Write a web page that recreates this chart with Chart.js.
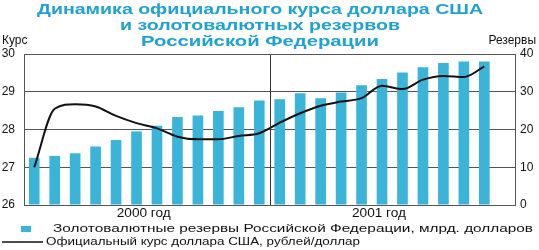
<!DOCTYPE html>
<html>
<head>
<meta charset="utf-8">
<script src="https://cdn.jsdelivr.net/npm/chart.js@4"></script>
<style>
    body { margin: 0; background: #fff; }
    canvas { display: block; }
</style>
</head>
<body>
<canvas id="Chart_KURS" width="539" height="250"></canvas>
<script>
// Données (mois de 2000 et 2001)
const mois = ['01.2000', '02.2000', '03.2000', '04.2000', '05.2000', '06.2000', '07.2000', '08.2000', '09.2000', '10.2000', '11.2000', '12.2000',
    '01.2001', '02.2001', '03.2001', '04.2001', '05.2001', '06.2001', '07.2001', '08.2001', '09.2001', '10.2001', '11.2001', '12.2001'];
const reserves = [12.5, 13.0, 13.7, 15.5, 17.2, 19.5, 21.0, 23.3, 23.7, 24.9, 25.9, 27.7,
    28.0, 29.6, 28.3, 29.8, 31.7, 33.4, 35.1, 36.5, 37.6, 38.0, 38.0, null];
const kurs = [27.0, 28.55, 28.67, 28.61, 28.36, 28.17, 28.03, 27.81, 27.74, 27.74, 27.83, 27.90,
    28.18, 28.43, 28.63, 28.74, 28.83, 29.16, 29.07, 29.32, 29.42, 29.39, 29.67, null];
const annees = ['2000 год', '2001 год'];
const titre = ['Динамика официального курса доллара США', 'и золотовалютных резервов', 'Российской Федерации'];

const bleu = '#3ab4d8';
const grille = '#555';

// Texte étiré horizontalement sur une largeur donnée
function texteLarge(ctx, txt, x, y, largeur) {
    const w = ctx.measureText(txt).width;
    ctx.save();
    ctx.translate(x, y);
    ctx.scale(largeur / w, 1);
    ctx.fillText(txt, 0, 0);
    ctx.restore();
}

const decor = {
    id: 'decor',
    afterDraw(chart) {
        const ctx = chart.ctx;
        const area = chart.chartArea;
        const x = chart.scales.x;
        ctx.save();

        // séparation entre les années
        const xs = (x.getPixelForValue(11) + x.getPixelForValue(12)) / 2;
        ctx.strokeStyle = '#333';
        ctx.lineWidth = 1;
        ctx.beginPath();
        ctx.moveTo(Math.round(xs) + 0.5, area.top);
        ctx.lineTo(Math.round(xs) + 0.5, area.bottom);
        ctx.stroke();

        // cadre du haut
        ctx.strokeStyle = grille;
        ctx.beginPath();
        ctx.moveTo(area.left, Math.round(area.top) + 0.5);
        ctx.lineTo(area.right, Math.round(area.top) + 0.5);
        ctx.stroke();

        // titre
        ctx.fillStyle = '#1ea2d2';
        ctx.font = 'bold 14px "Liberation Sans"';
        ctx.textAlign = 'left';
        ctx.textBaseline = 'middle';
        const largeurs = [446, 280, 238];
        titre.forEach((t, i) => {
            texteLarge(ctx, t, 260 - largeurs[i] / 2, 10 + i * 16, largeurs[i]);
        });

        // titres des axes
        ctx.fillStyle = '#111';
        ctx.font = '12px "Liberation Sans"';
        ctx.textAlign = 'left';
        ctx.fillText('Курс', 2, 41);
        ctx.textAlign = 'right';
        ctx.fillText('Резервы', 536, 41);

        // années
        ctx.textAlign = 'left';
        const c1 = (x.getPixelForValue(0) + x.getPixelForValue(11)) / 2 - 3;
        const c2 = (x.getPixelForValue(12) + x.getPixelForValue(22)) / 2 - 3;
        texteLarge(ctx, annees[0], c1 - 27, 214, 54);
        texteLarge(ctx, annees[1], c2 - 27, 214, 54);

        // légende
        const ds = chart.data.datasets;
        ctx.font = '11px "Liberation Sans"';
        ctx.fillStyle = ds[0].backgroundColor;
        ctx.fillRect(21, 226, 10, 6);
        ctx.fillStyle = '#111';
        texteLarge(ctx, ds[0].label, 53, 229, 480);
        ctx.strokeStyle = ds[1].borderColor;
        ctx.lineWidth = 1.5;
        ctx.beginPath();
        ctx.moveTo(2, 242);
        ctx.lineTo(43, 242);
        ctx.stroke();
        texteLarge(ctx, ds[1].label, 46, 242, 314);

        ctx.restore();
    }
};

const KursChart = new Chart(document.getElementById('Chart_KURS').getContext('2d'), {
    type: 'bar',
    data: {
        labels: mois,
        datasets: [{
            label: 'Золотовалютные резервы Российской Федерации, млрд. долларов',
            data: reserves,
            backgroundColor: bleu,
            yAxisID: 'y1',
            barPercentage: 0.52,
            categoryPercentage: 1,
            order: 1
        }, {
            type: 'line',
            label: 'Официальный курс доллара США, рублей/доллар',
            data: kurs,
            borderColor: '#111',
            borderWidth: 2,
            pointRadius: 0,
            cubicInterpolationMode: 'monotone',
            yAxisID: 'y',
            order: 0
        }]
    },
    options: {
        responsive: false,
        animation: false,
        layout: {
            padding: { top: 54, bottom: 45, left: 0, right: 0 }
        },
        plugins: {
            legend: { display: false },
            tooltip: { enabled: false }
        },
        scales: {
            x: {
                grid: { display: false, drawTicks: false },
                ticks: { display: false },
                border: { color: grille }
            },
            y: {
                position: 'left',
                min: 26,
                max: 30,
                ticks: { stepSize: 1, padding: 9, color: '#111', font: { family: 'Liberation Sans', size: 12 } },
                grid: { color: grille, drawTicks: false },
                border: { color: grille },
                afterFit(s) { s.width = 24; }
            },
            y1: {
                position: 'right',
                min: 0,
                max: 40,
                ticks: { stepSize: 10, padding: 5, color: '#111', font: { family: 'Liberation Sans', size: 12 } },
                grid: { drawOnChartArea: false, drawTicks: false },
                border: { color: grille },
                afterFit(s) { s.width = 24; }
            }
        }
    },
    plugins: [decor]
});
</script>
</body>
</html>
